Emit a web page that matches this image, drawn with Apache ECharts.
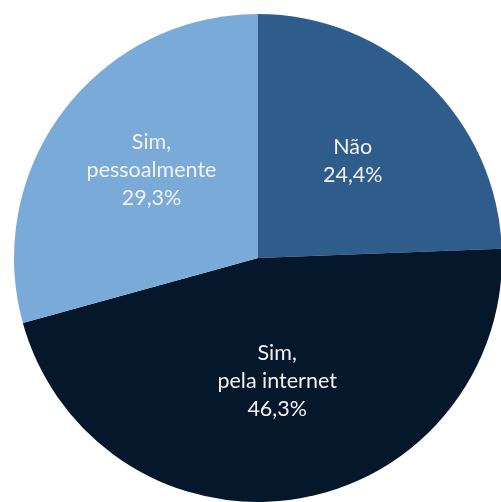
<!DOCTYPE html>
<html><head><meta charset="utf-8">
<script src="https://cdn.jsdelivr.net/npm/echarts@6/dist/echarts.min.js"></script>
<style>html,body{margin:0;padding:0;background:#fff}#c{width:501px;height:502px}</style>
</head><body><div id="c"></div>
<script>
const categories = ["Não", "Sim,\npela internet", "Sim,\npessoalmente"];
const values = [24.4, 46.3, 29.3];
const valueLabels = ["24,4%", "46,3%", "29,3%"];

const colors = ["#2F5D8B", "#05172A", "#7AABD8"];
const labelOffsets = [[8, -7], [0, 0], [-7, -12]];

const chart = echarts.init(document.getElementById('c'), null, {renderer: 'canvas'});
chart.setOption({
  animation: false,
  series: [{
    type: 'pie',
    center: [258, 258],
    radius: [0, 244],
    startAngle: 90,
    clockwise: true,
    avoidLabelOverlap: false,
    label: {
      show: true,
      position: 'inside',
      color: '#F2F2F2',
      fontFamily: 'Lato',
      fontSize: 21.5,
      lineHeight: 28,
      align: 'center',
      formatter: p => p.name + '\n' + valueLabels[p.dataIndex]
    },
    labelLine: {show: false},
    itemStyle: {borderWidth: 0},
    emphasis: {disabled: true},
    data: categories.map((c, i) => ({
      name: c, value: values[i],
      itemStyle: {color: colors[i]},
      label: {offset: labelOffsets[i]}
    }))
  }]
});
</script></body></html>
